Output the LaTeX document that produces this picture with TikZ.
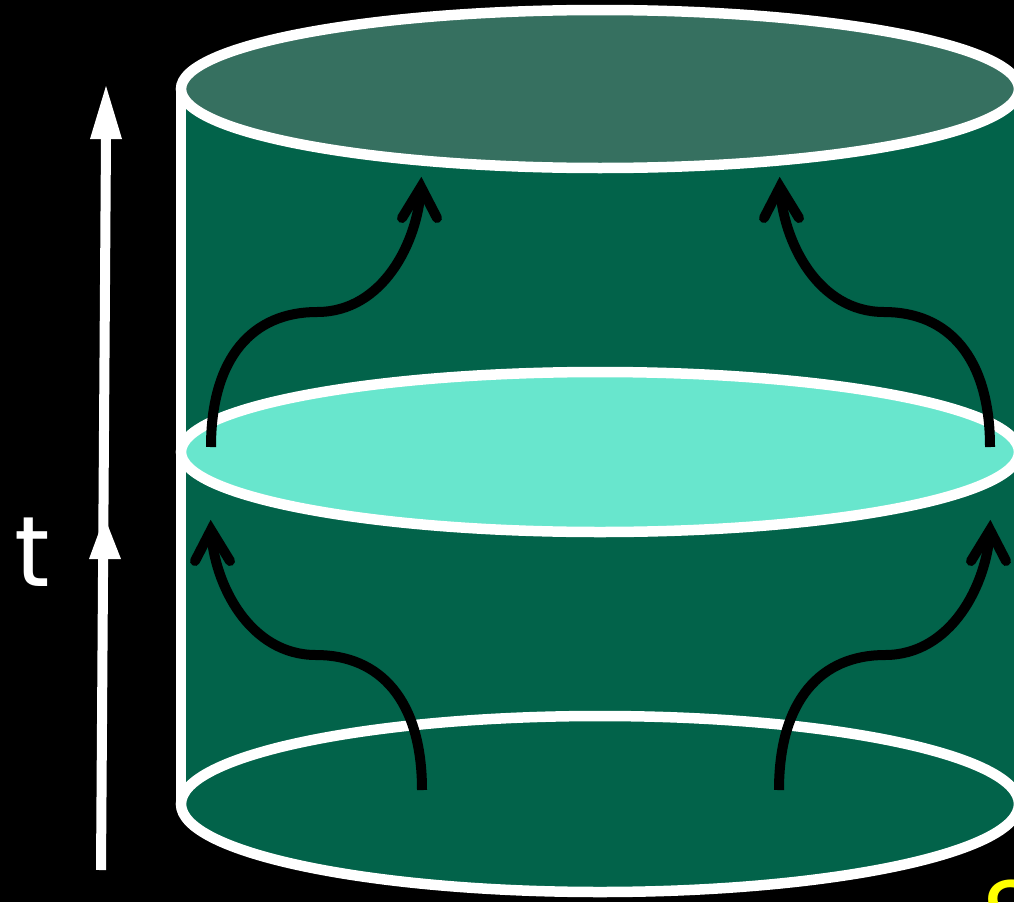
\documentclass[tikz,border=0pt]{standalone}
\usepackage{fontspec}
\newfontfamily\handfont{Poppins}
\definecolor{bodygreen}{HTML}{02634A}
\definecolor{topgreen}{HTML}{367060}
\definecolor{midcyan}{HTML}{68E6CD}
\definecolor{labelyellow}{HTML}{FFFF00}
\begin{document}
\begin{tikzpicture}[x=1pt,y=-1pt,
  rim/.style={draw=white,line width=10.5pt},
  flow/.style={draw=black,line width=10pt},
  chev/.style={draw=black,line width=10pt,line cap=round,miter limit=10},
  taxis/.style={draw=white,line width=10pt},
  thead/.style={fill=white},
  lbl/.style={inner sep=0pt,font=\handfont\fontsize{100}{100}\selectfont}]
\fill[black] (0,0) rectangle (1014,902);
\useasboundingbox (0,0) rectangle (1014,902);
% cylinder
\fill[bodygreen] (181,90) rectangle (1019,804);
\draw[rim, fill=bodygreen] (600,804) ellipse [x radius=419, y radius=88];
\draw[rim] (181,90) -- (181,804);
\draw[rim] (1019,90) -- (1019,804);
\draw[rim, fill=midcyan] (600,452) ellipse [x radius=419, y radius=80];
\draw[rim, fill=topgreen] (600,89) ellipse [x radius=419, y radius=79];
% time axis
\coordinate (tb) at (101,870);
\coordinate (tt) at (106,138);
\draw[taxis] (tb) -- (tt);
\fill[thead] (106,86) -- (90,139) -- (122,139) -- cycle;
\fill[thead] (104.5,517) -- (89,559) -- (121,559) -- cycle;
% flow arrows
\coordinate (a1) at (422,790); \coordinate (a1t) at (211,530);
\draw[flow] (a1) .. controls (422,700) and (380,655) .. (316,655) .. controls (250,655) and (214,585) .. (a1t);
\draw[chev] (195,561) -- (a1t) -- (230,561);
\coordinate (a2) at (211,447); \coordinate (a2t) at (421,187);
\draw[flow] (a2) .. controls (211,357) and (253,312) .. (317,312) .. controls (383,312) and (418,242) .. (a2t);
\draw[chev] (402,218) -- (a2t) -- (437,218);
\coordinate (a3) at (779,790); \coordinate (a3t) at (990,530);
\draw[flow] (a3) .. controls (779,700) and (821,655) .. (885,655) .. controls (951,655) and (987,585) .. (a3t);
\draw[chev] (971,561) -- (a3t) -- (1006,561);
\coordinate (a4) at (990,447); \coordinate (a4t) at (780,187);
\draw[flow] (a4) .. controls (990,357) and (948,312) .. (884,312) .. controls (818,312) and (783,242) .. (a4t);
\draw[chev] (764,218) -- (a4t) -- (799,218);
% labels
\node[lbl, text=white] (tlabel) at (33,552) {t};
\node[lbl, text=labelyellow, anchor=base west] (slabel) at (982,950) {S};
\end{tikzpicture}
\end{document}
